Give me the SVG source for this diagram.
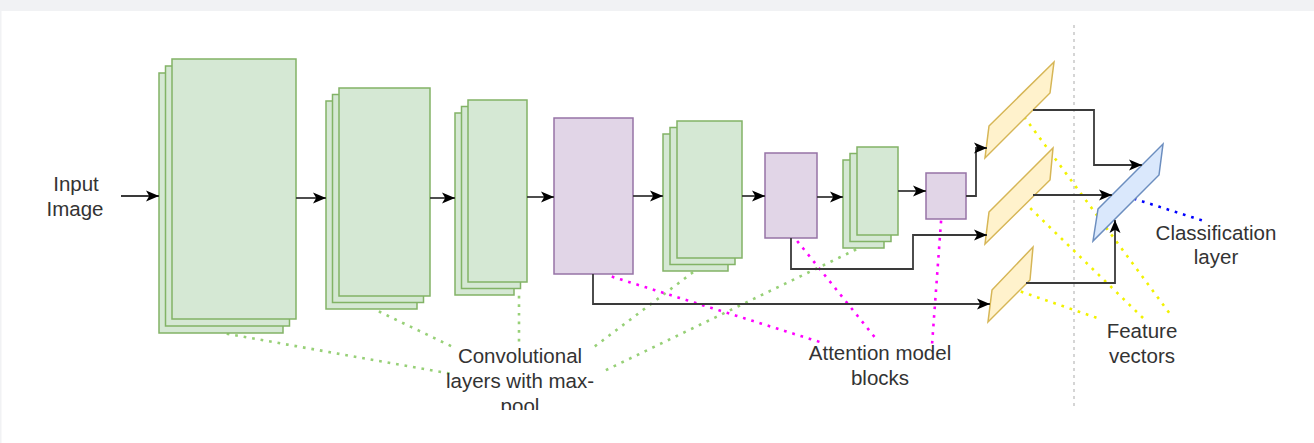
<svg xmlns="http://www.w3.org/2000/svg" width="1314" height="443" viewBox="0 0 1314 443">
<style>
.conv{fill:#d5e8d4;stroke:#82b366;stroke-width:1.5}
.att{fill:#e1d5e7;stroke:#9673a6;stroke-width:1.5}
.fv{fill:#fff2cc;stroke:#d6b656;stroke-width:1.5}
.cls{fill:#dae8fc;stroke:#6c8ebf;stroke-width:1.5}
.edge{fill:none;stroke:#3a3a3a;stroke-width:1.8;marker-end:url(#arr)}
.dot{fill:none;stroke-width:2.6;stroke-dasharray:0.1 8.5;stroke-linecap:square}
.g{stroke:#97d077}.m{stroke:#ff00ff}.y{stroke:#f2f200}.b{stroke:#0000ff}
.lbl{font-family:"Liberation Sans",Arial,sans-serif;font-size:20.5px;fill:#333;text-anchor:middle}
</style>
<defs>
<marker id="arr" markerUnits="userSpaceOnUse" markerWidth="14" markerHeight="12" refX="13" refY="6" orient="auto">
<path d="M0,0.5 L13,6 L0,11.5 L3.2,6 Z" fill="#000"/>
</marker>
<clipPath id="clip"><rect x="0" y="0" width="1314" height="410"/></clipPath>
</defs>
<rect x="0" y="0" width="1314" height="443" fill="#ffffff"/>
<rect x="0" y="0" width="1314" height="11" fill="#f1f2f4"/>
<rect x="0" y="0" width="1.5" height="443" fill="#f1f2f4"/>
<line x1="1074" y1="25" x2="1074" y2="410" stroke="#c8c8c8" stroke-width="1.5" stroke-dasharray="3 4"/>

<g id="dotted">
<path class="dot g" d="M228,334 L452,374"/>
<path class="dot g" d="M380,312 L455,348"/>
<path class="dot g" d="M519,297 L519,344"/>
<path class="dot g" d="M692,273 L590,350"/>
<path class="dot g" d="M855,250 L600,373"/>
<path class="dot m" d="M613,277 L823,343"/>
<path class="dot m" d="M798,242 L877,340"/>
<path class="dot m" d="M941,222 L932,345"/>
<path class="dot y" d="M1025,118 L1173,318"/>
<path class="dot y" d="M1025,203 L1143,318"/>
<path class="dot y" d="M1022,292 L1103,320"/>
<path class="dot b" d="M1135,199 L1207,222"/>
</g>

<g id="conv1">
<rect class="conv" x="159" y="73" width="124" height="260"/>
<rect class="conv" x="165.5" y="66" width="124" height="260"/>
<rect class="conv" x="172" y="59" width="124" height="260"/>
</g>
<g id="conv2">
<rect class="conv" x="326" y="101" width="91" height="208"/>
<rect class="conv" x="332.5" y="94.5" width="91" height="208"/>
<rect class="conv" x="339" y="88" width="91" height="208"/>
</g>
<g id="conv3">
<rect class="conv" x="455" y="113" width="59" height="182"/>
<rect class="conv" x="461.5" y="106.5" width="59" height="182"/>
<rect class="conv" x="468" y="100" width="59" height="182"/>
</g>
<g id="att1"><rect class="att" x="554" y="118" width="79" height="156"/></g>
<g id="conv4">
<rect class="conv" x="663" y="134" width="65" height="137"/>
<rect class="conv" x="670" y="127.5" width="65" height="137"/>
<rect class="conv" x="677" y="121" width="65" height="137"/>
</g>
<g id="att2"><rect class="att" x="765" y="153" width="52" height="85"/></g>
<g id="conv5">
<rect class="conv" x="843" y="160" width="41" height="88"/>
<rect class="conv" x="850" y="153.5" width="41" height="88"/>
<rect class="conv" x="857" y="147" width="41" height="88"/>
</g>
<g id="att3"><rect class="att" x="926" y="173" width="40" height="46"/></g>

<g id="fv1"><polygon class="fv" points="989,126 1054,62 1050,93 985,158"/></g>
<g id="fv2"><polygon class="fv" points="989,212 1053,148 1050,180 985,244"/></g>
<g id="fv3"><polygon class="fv" points="992,290 1033,247 1030,280 988,322"/></g>
<g id="cls"><polygon class="cls" points="1098,209 1163,144 1159,175 1093,241"/></g>

<g id="connectors">
<path class="edge" d="M121,196 H159"/>
<path class="edge" d="M296,198 H326"/>
<path class="edge" d="M430,198 H455"/>
<path class="edge" d="M527,197 H554"/>
<path class="edge" d="M633,196 H663"/>
<path class="edge" d="M742,196 H765"/>
<path class="edge" d="M817,197 H843"/>
<path class="edge" d="M898,191 H926"/>
<path class="edge" d="M966,196 H976 V148 H987"/>
<path class="edge" d="M791,238 V269 H913 V235 H987"/>
<path class="edge" d="M593,274 V304 H990"/>
<path class="edge" d="M1033,110 H1094 V165 H1142"/>
<path class="edge" d="M1033,195 H1112"/>
<path class="edge" d="M1026,283 H1115 V220"/>
</g>

<g id="labels">
<text class="lbl" x="76" y="191">Input</text>
<text class="lbl" x="75" y="216">Image</text>
<g clip-path="url(#clip)">
<text class="lbl" x="520" y="363">Convolutional</text>
<text class="lbl" x="520" y="388">layers with max-</text>
<text class="lbl" x="520" y="413">pool</text>
</g>
<text class="lbl" x="880" y="360">Attention model</text>
<text class="lbl" x="880" y="385">blocks</text>
<text class="lbl" x="1216" y="240">Classification</text>
<text class="lbl" x="1216" y="264">layer</text>
<text class="lbl" x="1142" y="338">Feature</text>
<text class="lbl" x="1142" y="363">vectors</text>
</g>
</svg>
